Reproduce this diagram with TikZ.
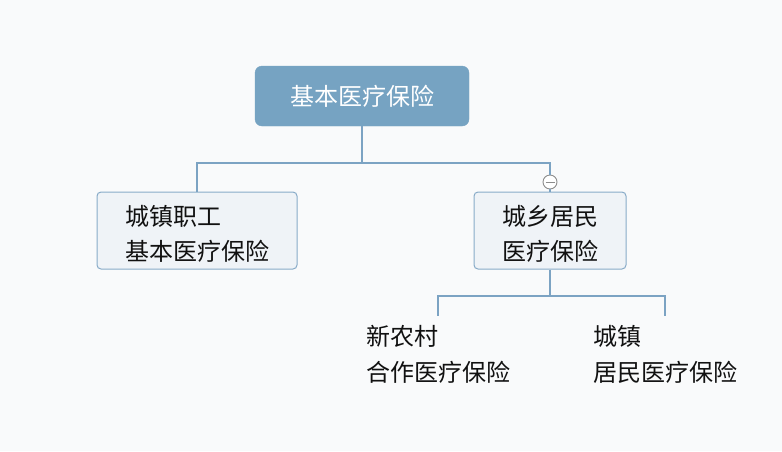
\documentclass[tikz,border=0pt]{standalone}
\usepackage{fontspec}
\setmainfont{Noto Sans CJK SC}
\usetikzlibrary{positioning,calc}

\definecolor{pagebg}{HTML}{F9FAFB}
\definecolor{rootblue}{HTML}{76A3C2}
\definecolor{topicfill}{HTML}{EFF3F7}
\definecolor{topicedge}{HTML}{88ABC8}
\definecolor{linkblue}{HTML}{7CA3C3}
\definecolor{foldgray}{HTML}{8C8C8C}
\definecolor{inkblack}{HTML}{111111}

\begin{document}
\begin{tikzpicture}[x=1pt, y=-1pt,
    rootbox/.style={draw=rootblue, fill=rootblue, rounded corners=7pt, text=white, minimum width=214pt, minimum height=60pt, font=\fontsize{24}{35}\selectfont},
    topic/.style={draw=topicedge, fill=topicfill, line width=1pt, rounded corners=4pt, minimum height=77pt, text height=61pt, text=inkblack, font=\fontsize{24}{35}\selectfont},
    leaf/.style={anchor=north, align=left, inner xsep=5pt, inner ysep=9pt, text=inkblack, font=\fontsize{24}{36}\selectfont},
    line/.style={draw=linkblue, line width=1.3pt},
    fold/.style={circle, draw=foldgray, fill=white, line width=0.9pt, minimum size=14pt, inner sep=0pt,
        path picture={\draw[foldgray, line width=0.9pt] ([xshift=-4.5pt]path picture bounding box.center) -- ([xshift=4.5pt]path picture bounding box.center);}}
]

\fill[pagebg] (0,0) rectangle (782,451);
\useasboundingbox (0,0) rectangle (782,451);

\node[rootbox] (root) at (362,96) {基本医疗保险};
\node[topic, align=left, minimum width=200pt] (worker) at (197,230.5) {城镇职工\\基本医疗保险};
\node[topic, align=center, minimum width=152pt] (resident) at (550,230.5) {城乡居民\\医疗保险};
\node[fold] (fold) at (550,182) {};

\coordinate (bus1) at (362,163);
\coordinate (bus2) at (550,296);

\node[leaf] (rural) at (438,316) {新农村\\合作医疗保险};
\node[leaf] (urban) at (665,316) {城镇\\居民医疗保险};

\draw[line] (root.south) -- (bus1) -| (worker.north);
\draw[line] (bus1) -| (fold.north);
\draw[line] (fold.south) -- (resident.north);
\draw[line] (resident.south) -- (bus2) -| (rural.north);
\draw[line] (bus2) -| (urban.north);

\end{tikzpicture}
\end{document}
